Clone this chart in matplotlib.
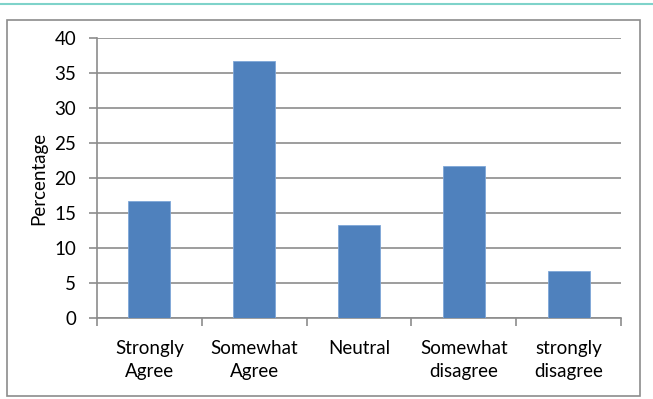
import matplotlib
matplotlib.use("Agg")
import matplotlib.pyplot as plt
from matplotlib.patches import Rectangle
from matplotlib.lines import Line2D

categories = ["Strongly\nAgree", "Somewhat\nAgree", "Neutral", "Somewhat\ndisagree", "strongly\ndisagree"]
percentages = [16.7, 36.7, 13.3, 21.7, 6.7]
y_ticks = [0, 5, 10, 15, 20, 25, 30, 35, 40]

plt.rcParams["font.family"] = ["Lato", "DejaVu Sans"]
FS = 13.5

W, H = 653, 399
fig = plt.figure(figsize=(W / 100, H / 100), dpi=100)

# decorative teal rule across the top and the chart's outer frame
fig.add_artist(Line2D([0, 1], [1 - 4 / H, 1 - 4 / H], transform=fig.transFigure,
                      color="#7fd3ca", lw=1.5))
fig.add_artist(Rectangle((7 / W, 1 - 396 / H), (640 - 7) / W, (396 - 20) / H,
                         transform=fig.transFigure, fill=False,
                         edgecolor="#8c8c8c", lw=1.2))

left, right, top, bottom = 97, 621, 38, 318
ax = fig.add_axes([left / W, 1 - bottom / H, (right - left) / W, (bottom - top) / H])

x = list(range(len(categories)))
ax.bar(x, percentages, width=0.4, color="#4f81bd", edgecolor="#7ea6d8",
       linewidth=0.6, zorder=3)

ax.set_xlim(-0.5, len(categories) - 0.5)
ax.set_ylim(0, 40)
ax.set_yticks(y_ticks)
ax.yaxis.grid(True, color="#8c8c8c", lw=1.2, zorder=0)
ax.set_axisbelow(True)

for s in ["top", "right"]:
    ax.spines[s].set_visible(False)
for s in ["left", "bottom"]:
    ax.spines[s].set_color("#8c8c8c")
    ax.spines[s].set_linewidth(1.2)

ax.tick_params(axis="y", length=6, width=1.2, color="#8c8c8c",
               labelsize=FS, pad=9, labelcolor="black")
# category boundaries carry the tick marks, labels sit at category centres
ax.set_xticks([i - 0.5 for i in range(len(categories) + 1)])
ax.set_xticklabels([])
ax.tick_params(axis="x", length=6, width=1.2, color="#8c8c8c")
ax.set_xticks(x, minor=True)
ax.set_xticklabels(categories, minor=True, fontsize=FS, linespacing=1.4)
ax.tick_params(axis="x", which="minor", length=0, pad=16)

ax.set_ylabel("Percentage", fontsize=FS, labelpad=5)

fig.savefig("out.png", dpi=100)
